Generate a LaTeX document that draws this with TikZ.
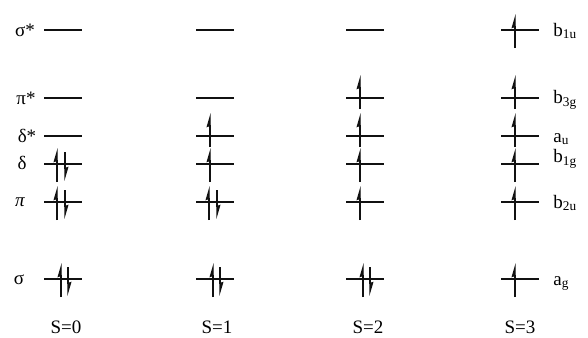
\documentclass[tikz,border=0pt]{standalone}
\usepackage{fontspec}
\setmainfont{Liberation Serif}
\usetikzlibrary{arrows.meta}
\definecolor{ink}{HTML}{111111}
\tikzset{
  level/.style={
    line width=0.8pt,
    draw=ink
  },
  spin/.style={
    line width=0.6pt,
    draw=ink,
    -{Stealth[harpoon, length=6pt, width=3.4pt, inset=0.5pt]}
  },
  orblabel/.style={
    font=\fontsize{9.5}{11}\selectfont,
    inner sep=0pt
  },
  symlabel/.style={
    orblabel,
    anchor=west
  },
  % one electron, spin up
  single/.pic={
    \draw[spin] (14,18) -- (14,-16);
  },
  % one electron, drawn higher to clear the level below
  raised/.pic={
    \draw[spin] (14,11) -- (14,-23);
  },
  % two paired electrons
  pair/.pic={
    \draw[spin] (13,18) -- (13,-16);
    \draw[spin] (21,-12) -- (21,17);
  },
  corepair/.pic={
    \draw[spin] (17,18) -- (17,-16);
    \draw[spin] (24,-12) -- (24,17);
  }
}

\begin{document}
\begin{tikzpicture}[x=0.5pt, y=-0.5pt]
    \useasboundingbox (0,0) rectangle (588,337);
    % levels of the four states
    \foreach \x in {44,196,346,501}
      \foreach \y in {30,98,136,164,202,279}
        \draw[level] (\x,\y) -- ++(38,0);
    % S=0
    \pic at (44,164) {pair};
    \pic at (44,202) {pair};
    \pic at (44,279) {corepair};
    % S=1
    \pic at (196,136) {raised};
    \pic at (196,164) {single};
    \pic at (196,202) {pair};
    \pic at (196,279) {corepair};
    % S=2
    \pic at (346,98) {raised};
    \pic at (346,136) {raised};
    \pic at (346,164) {single};
    \pic at (346,202) {single};
    \pic at (346,279) {corepair};
    % S=3
    \pic at (501,30) {single};
    \pic at (501,98) {raised};
    \pic at (501,136) {raised};
    \pic at (501,164) {single};
    \pic at (501,202) {single};
    \pic at (501,279) {single};
    % orbital names
    \node[orblabel] (sigmastar) at (25,30) {σ*};
    \node[orblabel] (pistar) at (26,98) {π*};
    \node[orblabel] (deltastar) at (27,136) {δ*};
    \node[orblabel] (delta) at (22,163) {δ};
    \node[orblabel] (pi) at (20,202) {\textit{π}};
    \node[orblabel] (sigma) at (19,280) {σ};
    % symmetry labels
    \node[symlabel] (bonu) at (553,31) {b\textsubscript{1u}};
    \node[symlabel] (bthg) at (553,100) {b\textsubscript{3g}};
    \node[symlabel] (au) at (553,139) {a\textsubscript{u}};
    \node[symlabel] (bong) at (553,159) {b\textsubscript{1g}};
    \node[symlabel] (btwu) at (553,203) {b\textsubscript{2u}};
    \node[symlabel] (ag) at (553,283) {a\textsubscript{g}};
    % spin states
    \node[orblabel] (szero) at (66,327) {S=0};
    \node[orblabel] (sone) at (217,327) {S=1};
    \node[orblabel] (stwo) at (368,327) {S=2};
    \node[orblabel] (sthree) at (520,327) {S=3};
  \end{tikzpicture}
\end{document}
